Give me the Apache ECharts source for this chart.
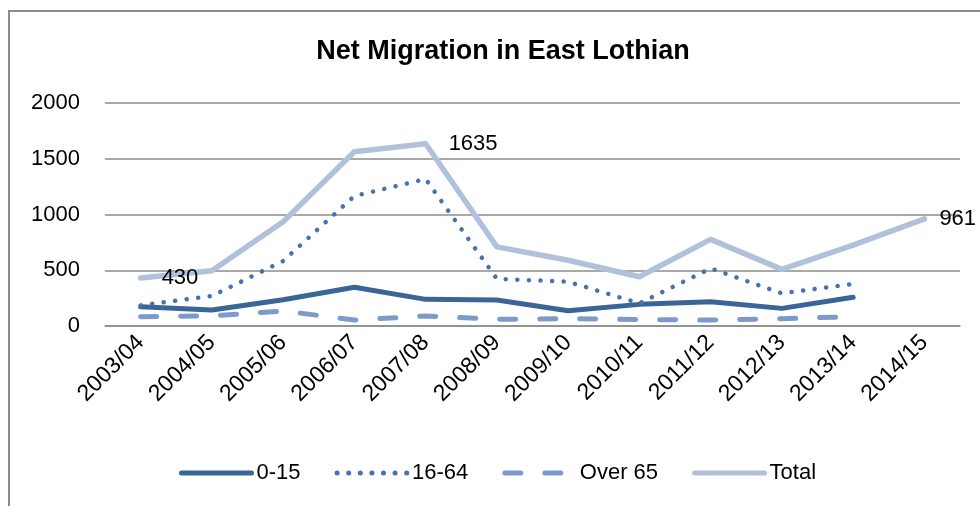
<!DOCTYPE html>
<html>
<head>
<meta charset="utf-8">
<script src="https://cdn.jsdelivr.net/npm/echarts@6/dist/echarts.min.js"></script>
<style>
  html, body { margin: 0; padding: 0; background: #fff; }
  #frame {
    position: absolute; left: 8px; top: 10px; right: -4px; bottom: -4px;
    border-top: 2px solid #8c8c8c; border-left: 2px solid #8c8c8c;
  }
  #chart { position: absolute; left: 0; top: 0; width: 980px; height: 506px; }
</style>
</head>
<body>
<div id="frame"></div>
<div id="chart"></div>
<script>
const years = ["2003/04", "2004/05", "2005/06", "2006/07", "2007/08", "2008/09",
  "2009/10", "2010/11", "2011/12", "2012/13", "2013/14", "2014/15"];
const age0to15 = [173, 143, 235, 347, 239, 233, 137, 194, 218, 158, 257, null];
const age16to64 = [185, 269, 583, 1166, 1318, 423, 397, 203, 517, 293, 377, null];
const over65 = [84, 90, 135, 54, 90, 60, 66, 57, 54, 66, 84, null];
const total = [430, 495, 935, 1563, 1635, 710, 590, 442, 777, 508, 726, 961];
const labelledTotals = { 0: 20, 4: 22, 11: 14 }; // index -> label distance
const yTicks = { min: 0, max: 2000, interval: 500 };

const font = "Liberation Sans";
const chart = echarts.init(document.getElementById("chart"));

const totalData = total.map((v, i) =>
  i in labelledTotals
    ? { value: v, label: { show: true, position: "right", distance: labelledTotals[i] } }
    : v
);

chart.setOption({
  animation: false,
  textStyle: { fontFamily: font, color: "#000" },
  title: {
    text: "Net Migration in East Lothian",
    left: 498,
    textAlign: "center",
    top: 33,
    textStyle: { fontFamily: font, fontSize: 27, fontWeight: "bold", color: "#000" }
  },
  grid: { left: 105, right: 20, top: 103, bottom: 180 },
  legend: {
    left: 174,
    top: 457,
    itemWidth: 70,
    itemHeight: 12,
    itemGap: 34,
    itemStyle: { opacity: 0 },
    lineStyle: { width: 5 },
    textStyle: { fontFamily: font, fontSize: 22, color: "#000" },
    data: ["0-15", "16-64", "Over 65", "Total"]
  },
  xAxis: {
    type: "category",
    data: years,
    boundaryGap: true,
    axisTick: { show: false },
    axisLine: { lineStyle: { color: "#8c8c8c", width: 1.5 } },
    axisLabel: { rotate: 45, fontFamily: font, fontSize: 23, color: "#000", margin: 13, interval: 0 }
  },
  yAxis: {
    type: "value",
    min: yTicks.min,
    max: yTicks.max,
    interval: yTicks.interval,
    axisLine: { show: false },
    axisTick: { show: false },
    axisLabel: { fontFamily: font, fontSize: 22, color: "#000", margin: 25, formatter: (v) => String(v) },
    splitLine: { lineStyle: { color: "#8c8c8c", width: 1.5 } }
  },
  series: [
    {
      name: "0-15", type: "line", data: age0to15, symbol: "none",
      color: "#3b6497",
      lineStyle: { width: 5, color: "#3b6497", cap: "round", join: "round" }
    },
    {
      name: "16-64", type: "line", data: age16to64, symbol: "none",
      color: "#4573b1",
      lineStyle: { width: 4.5, color: "#4573b1", type: [0.1, 11.5], cap: "round", join: "round" }
    },
    {
      name: "Over 65", type: "line", data: over65, symbol: "none",
      color: "#7d9bca",
      lineStyle: { width: 5, color: "#7d9bca", type: [16, 24], cap: "round", join: "round" }
    },
    {
      name: "Total", type: "line", data: totalData,
      symbol: "circle", symbolSize: 2, showSymbol: true,
      itemStyle: { color: "rgba(0,0,0,0)", borderWidth: 0 },
      color: "#b1c1dc",
      lineStyle: { width: 5.5, color: "#b1c1dc", cap: "round", join: "round" },
      label: { show: false, fontFamily: font, fontSize: 22, color: "#000" }
    }
  ]
});
</script>
</body>
</html>
